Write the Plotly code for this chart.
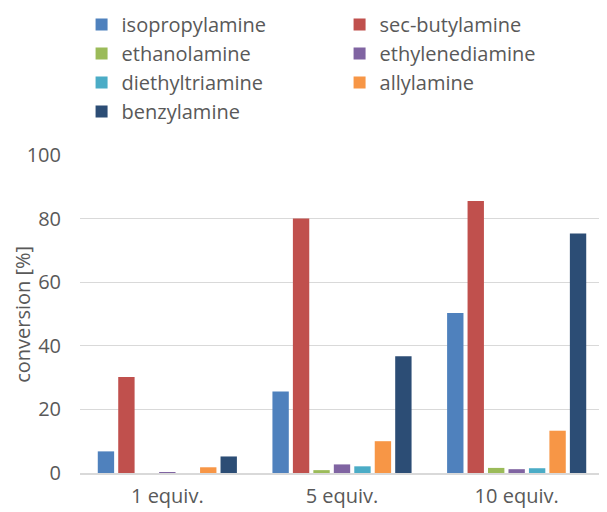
import plotly.graph_objects as go

categories = ["1 equiv.", "5 equiv.", "10 equiv."]
series_names = ["isopropylamine", "sec-butylamine", "ethanolamine", "ethylenediamine",
                "diethyltriamine", "allylamine", "benzylamine"]
isopropylamine = [6.8, 25.6, 50.3]
sec_butylamine = [30.2, 80.0, 85.5]
ethanolamine = [0.0, 0.9, 1.6]
ethylenediamine = [0.3, 2.7, 1.2]
diethyltriamine = [0.0, 2.1, 1.5]
allylamine = [1.8, 10.0, 13.3]
benzylamine = [5.2, 36.7, 75.3]
colors = ["#4f81bd", "#c0504d", "#9bbb59", "#8064a2", "#4bacc6", "#f79646", "#2c4d75"]

values = [isopropylamine, sec_butylamine, ethanolamine, ethylenediamine,
          diethyltriamine, allylamine, benzylamine]

font_family = "Open Sans, Liberation Sans, sans-serif"
grey = "#595959"

fig = go.Figure()
for name, vals, c in zip(series_names, values, colors):
    fig.add_trace(go.Bar(name=name, x=categories, y=vals, marker=dict(color=c, line=dict(width=0))))

fig.add_annotation(text="conversion [%]", textangle=-90, xref="paper", yref="paper",
                   x=-0.111, y=0.5, xanchor="center", yanchor="middle", showarrow=False,
                   font=dict(size=20, color=grey))

fig.update_layout(
    width=599, height=504,
    margin=dict(l=72, r=3, t=147, b=39, autoexpand=False),
    barmode="group", bargap=0.18, bargroupgap=0.2,
    plot_bgcolor="white", paper_bgcolor="white",
    font=dict(family=font_family, color=grey, size=19),
    legend=dict(orientation="h", x=0.003, xanchor="left", y=1.472, yanchor="top",
                entrywidth=213, entrywidthmode="pixels", itemsizing="constant",
                font=dict(size=20, color=grey), tracegroupgap=0, itemwidth=30),
    xaxis=dict(showgrid=False, tickfont=dict(size=20, color=grey), ticks="",
               ticklabelstandoff=4,
               showline=True, linecolor="#d9d9d9", linewidth=1.5),
    yaxis=dict(range=[0, 100], dtick=20, gridcolor="#d9d9d9", gridwidth=1.2,
               zeroline=False, tickfont=dict(size=20, color=grey), ticks="",
               ticklabelstandoff=18),
)

fig.write_html("out.html")
